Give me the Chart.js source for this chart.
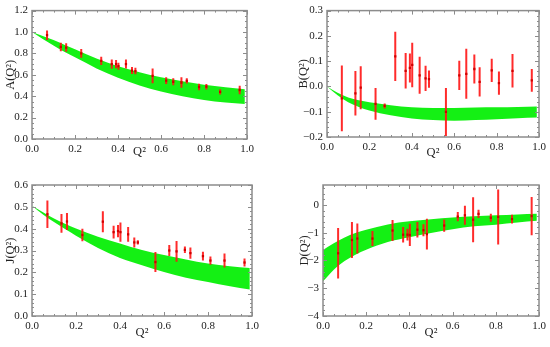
<!DOCTYPE html>
<html lang="en">
<head>
<meta charset="UTF-8">
<title>Form factors vs Q2</title>
<script src="https://cdn.jsdelivr.net/npm/chart.js"></script>
<style>
  body { margin: 0; background: #fff; }
  #wrap { position: relative; width: 550px; height: 347px; overflow: hidden; }
  canvas { position: absolute; }
</style>
</head>
<body>
<div id="wrap">
  <canvas id="chartA" width="262" height="159" style="left:0;top:0"></canvas>
  <canvas id="chartB" width="275" height="160" style="left:275px;top:0"></canvas>
  <canvas id="chartJ" width="275" height="168" style="left:0;top:172px"></canvas>
  <canvas id="chartD" width="275" height="168" style="left:275px;top:172px"></canvas>
</div>
<script>
// data points (same Q^2 for every panel; null = no point)
const Q2 = [0.07, 0.134, 0.159, 0.229, 0.272, 0.322, 0.371, 0.391, 0.402, 0.437, 0.465,
            0.481, 0.561, 0.624, 0.657, 0.695, 0.72, 0.777, 0.811, 0.875, 0.966];

const aVal = [0.97, 0.86, 0.855, 0.80, null, 0.73, 0.70, 0.70, 0.68, 0.70, 0.64,
              0.635, 0.59, 0.546, 0.535, 0.528, 0.543, 0.486, 0.489, 0.44, 0.458];
const aErr = [0.045, 0.04, 0.04, 0.04, null, 0.038, 0.044, 0.038, 0.033, 0.042, 0.033,
              0.03, 0.068, 0.032, 0.033, 0.05, 0.024, 0.03, 0.026, 0.024, 0.039];

const bVal = [-0.047, -0.027, -0.005, -0.069, -0.077, 0.119, 0.062, 0.073, 0.085, 0.044, 0.032,
              0.029, -0.101, 0.044, 0.05, 0.069, 0.018, 0.064, 0.013, 0.062, 0.024];
const bErr = [0.13, 0.088, 0.085, 0.063, 0.01, 0.097, 0.07, 0.057, 0.088, 0.073, 0.05,
              0.034, 0.095, 0.058, 0.099, 0.057, 0.058, 0.046, 0.046, 0.066, 0.045];

const jVal = [0.466, 0.424, 0.433, 0.371, null, 0.432, 0.384, 0.389, 0.384, 0.374, 0.337,
              0.337, 0.247, 0.30, 0.296, 0.303, 0.288, 0.274, 0.254, 0.254, 0.245];
const jErr = [0.063, 0.043, 0.039, 0.029, null, 0.048, 0.029, 0.028, 0.044, 0.034, 0.023,
              0.01, 0.046, 0.025, 0.048, 0.015, 0.026, 0.02, 0.019, 0.032, 0.018];

const dVal = [-1.74, -1.26, -1.21, -1.21, null, -0.92, -1.07, -1.07, -1.08, -0.89, -0.91,
              -1.05, -0.74, -0.42, -0.37, -0.53, -0.32, -0.46, -0.43, -0.51, -0.40];
const dErr = [0.91, 0.65, 0.54, 0.27, null, 0.38, 0.28, 0.21, 0.4, 0.28, 0.22,
              0.55, 0.22, 0.17, 0.34, 0.81, 0.15, 0.14, 0.99, 0.16, 0.69];

// green bands (upper / lower edge read at these Q^2)
const bandX = [0, 0.05, 0.1, 0.15, 0.2, 0.3, 0.4, 0.5, 0.6, 0.7, 0.8, 0.9, 0.99];
const aUpper = [1.0, 0.962, 0.925, 0.88, 0.838, 0.752, 0.68, 0.625, 0.576, 0.54, 0.507, 0.483, 0.464];
const aLower = [1.0, 0.935, 0.875, 0.815, 0.763, 0.66, 0.573, 0.50, 0.443, 0.40, 0.365, 0.34, 0.326];
const bUpper = [0, -0.025, -0.044, -0.055, -0.063, -0.074, -0.082, -0.085, -0.085, -0.083, -0.082, -0.081, -0.079];
const bLower = [0, -0.035, -0.063, -0.081, -0.095, -0.114, -0.127, -0.133, -0.136, -0.133, -0.13, -0.126, -0.123];
const jUpper = [0.505, 0.475, 0.447, 0.423, 0.401, 0.363, 0.332, 0.302, 0.279, 0.259, 0.24, 0.228, 0.22];
const jLower = [0.505, 0.465, 0.43, 0.398, 0.368, 0.312, 0.266, 0.233, 0.202, 0.175, 0.156, 0.136, 0.121];
const dUpper = [-1.62, -1.38, -1.17, -1.01, -0.89, -0.70, -0.59, -0.51, -0.45, -0.41, -0.37, -0.34, -0.32];
const dLower = [-2.75, -2.33, -2.02, -1.79, -1.61, -1.33, -1.16, -1.01, -0.87, -0.77, -0.71, -0.63, -0.57];

// tick labels
const xTicks = [0, 0.2, 0.4, 0.6, 0.8, 1.0];
const aTicks = [0, 0.2, 0.4, 0.6, 0.8, 1.0, 1.2];
const bTicks = [-0.2, -0.1, 0, 0.1, 0.2, 0.3];
const jTicks = [0, 0.1, 0.2, 0.3, 0.4, 0.5, 0.6];
const dTicks = [-4, -3, -2, -1, 0];

const FONT = 'Liberation Serif';
const FRAME = '#8c8c8c';

function fmt(v, dec) {
    const s = Math.abs(v).toFixed(dec);
    return (v < -1e-9 ? '\u2212' : '') + s;
}

function errorBars(val, err) {
    const pts = [];
    Q2.forEach((q, i) => {
        if (val[i] === null) return;
        pts.push({x: q, y: val[i] - err[i]}, {x: q, y: val[i] + err[i]}, {x: q, y: null});
    });
    return pts;
}

// frame with inward major / minor ticks on all four sides
const framePlugin = {
    id: 'frame',
    afterDraw(chart, args, opts) {
        const {ctx, chartArea: a, scales: {x, y}} = chart;
        ctx.save();
        ctx.strokeStyle = FRAME;
        ctx.lineWidth = 1;
        ctx.beginPath();
        const xs = (v, len) => {
            const p = Math.round(x.getPixelForValue(v)) + 0.5;
            ctx.moveTo(p, a.bottom); ctx.lineTo(p, a.bottom - len);
            ctx.moveTo(p, a.top); ctx.lineTo(p, a.top + len);
        };
        const ys = (v, len) => {
            const p = Math.round(y.getPixelForValue(v)) + 0.5;
            ctx.moveTo(a.left, p); ctx.lineTo(a.left + len, p);
            ctx.moveTo(a.right, p); ctx.lineTo(a.right - len, p);
        };
        for (let k = 0; x.min + k * opts.xMinor <= x.max + 1e-9; k++) xs(x.min + k * opts.xMinor, 2);
        xTicks.forEach(v => xs(v, 4));
        const y0 = Math.ceil(y.min / opts.yMinor - 1e-9) * opts.yMinor;
        for (let k = 0; y0 + k * opts.yMinor <= y.max + 1e-9; k++) ys(y0 + k * opts.yMinor, 2);
        opts.yTicks.forEach(v => ys(v, 4));
        ctx.stroke();
        ctx.lineWidth = 1.5;
        ctx.strokeRect(a.left, a.top, a.right - a.left, a.bottom - a.top);
        ctx.restore();
    }
};

function makePanel(id, p) {
    const band = (arr) => bandX.map((q, i) => ({x: q, y: arr[i]}));
    new Chart(document.getElementById(id), {
        type: 'line',
        data: {
            datasets: [
                {
                    data: Q2.map((q, i) => ({x: q, y: p.val[i]})).filter(d => d.y !== null),
                    showLine: false,
                    pointStyle: 'rect',
                    pointRadius: 1.6,
                    pointBackgroundColor: '#d00000',
                    pointBorderWidth: 0,
                    order: 0
                },
                {
                    data: errorBars(p.val, p.err),
                    borderColor: 'rgba(255, 20, 20, 0.9)',
                    borderWidth: 2,
                    pointRadius: 0,
                    spanGaps: false,
                    order: 1
                },
                {
                    data: band(p.upper),
                    borderWidth: 0,
                    borderColor: 'rgba(0,0,0,0)',
                    backgroundColor: '#14f014',
                    fill: '+1',
                    pointRadius: 0,
                    cubicInterpolationMode: 'monotone',
                    order: 2
                },
                {
                    data: band(p.lower),
                    borderWidth: 0,
                    borderColor: 'rgba(0,0,0,0)',
                    pointRadius: 0,
                    cubicInterpolationMode: 'monotone',
                    order: 3
                }
            ]
        },
        options: {
            responsive: false,
            animation: false,
            events: [],
            layout: { padding: p.pad },
            scales: {
                x: {
                    type: 'linear',
                    min: 0, max: 1,
                    afterBuildTicks: s => { s.ticks = xTicks.map(v => ({value: v})); },
                    afterFit: s => { s.height = p.xH; },
                    grid: { display: false, drawTicks: false },
                    border: { display: false },
                    ticks: {
                        padding: 4, maxRotation: 0, autoSkip: false, color: '#222',
                        font: { family: FONT, size: 11 },
                        callback: v => fmt(v, 1)
                    },
                    title: {
                        display: true, text: 'Q\u00b2', color: '#222',
                        padding: 0, font: { family: FONT, size: 12.5 }
                    }
                },
                y: {
                    min: p.yMin, max: p.yMax,
                    afterBuildTicks: s => { s.ticks = p.yTicks.map(v => ({value: v})); },
                    afterFit: s => { s.width = p.yW; },
                    grid: { display: false, drawTicks: false },
                    border: { display: false },
                    ticks: {
                        padding: 4, color: '#222',
                        font: { family: FONT, size: 11 },
                        callback: v => fmt(v, p.dec)
                    },
                    title: {
                        display: true, text: p.title, color: '#222',
                        padding: 0, font: { family: FONT, size: 12.5 }
                    }
                }
            },
            plugins: {
                legend: { display: false },
                tooltip: { enabled: false },
                frame: { xMinor: 0.05, yMinor: p.yMinor, yTicks: p.yTicks }
            }
        },
        plugins: [framePlugin]
    });
}

makePanel('chartA', { val: aVal, err: aErr, upper: aUpper, lower: aLower, title: 'A(Q\u00b2)',
    yMin: 0, yMax: 1.2, yTicks: aTicks, yMinor: 0.05, dec: 1,
    pad: {left: 3, top: 7, right: 15, bottom: 0}, yW: 29, xH: 20 });
makePanel('chartB', { val: bVal, err: bErr, upper: bUpper, lower: bLower, title: 'B(Q\u00b2)',
    yMin: -0.2, yMax: 0.3, yTicks: bTicks, yMinor: 0.02, dec: 1,
    pad: {left: 21, top: 7, right: 11, bottom: 0}, yW: 31, xH: 23 });
makePanel('chartJ', { val: jVal, err: jErr, upper: jUpper, lower: jLower, title: 'J(Q\u00b2)',
    yMin: 0, yMax: 0.6, yTicks: jTicks, yMinor: 0.02, dec: 1,
    pad: {left: 3, top: 13, right: 23, bottom: 0}, yW: 29, xH: 24 });
makePanel('chartD', { val: dVal, err: dErr, upper: dUpper, lower: dLower, title: 'D(Q\u00b2)',
    yMin: -4, yMax: 0.72, yTicks: dTicks, yMinor: 0.2, dec: 0,
    pad: {left: 22, top: 13, right: 11, bottom: 0}, yW: 26, xH: 24 });
</script>
</body>
</html>
